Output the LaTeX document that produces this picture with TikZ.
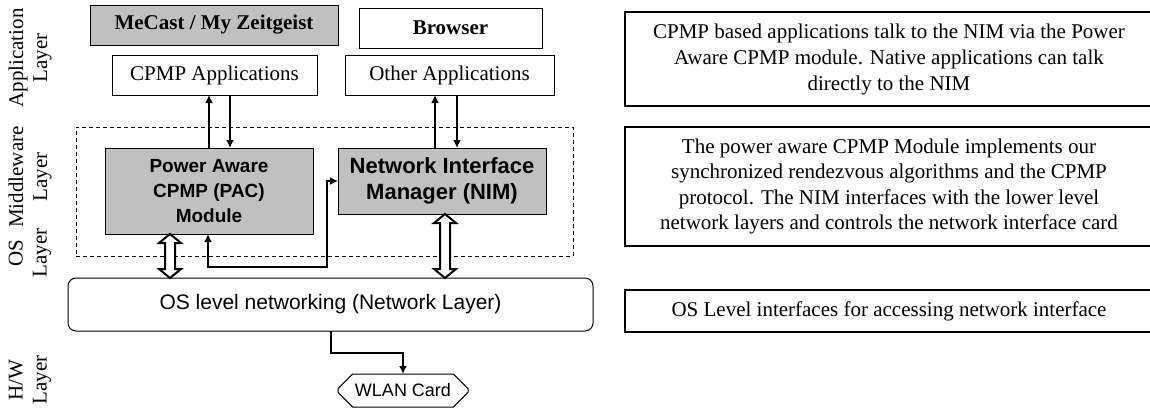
\documentclass[tikz,border=0pt]{standalone}
\usepackage{fontspec}
\setmainfont{Liberation Serif}
\setsansfont{Liberation Sans}
\usetikzlibrary{arrows.meta,shapes.misc,calc}
\definecolor{boxgray}{RGB}{192,192,192}

% hollow two-headed block arrow between two points on one vertical line
\newcommand\blockdblarrow[2]{%
  \path[blockarrow] let \p1=(#1), \p2=(#2) in
    (\x1,\y1) -- (\x1+5.5pt,\y1-4.5pt) -- (\x1+2.5pt,\y1-4.5pt)
    -- (\x1+2.5pt,\y2+4.5pt) -- (\x1+5.5pt,\y2+4.5pt) -- (\x1,\y2)
    -- (\x1-5.5pt,\y2+4.5pt) -- (\x1-2.5pt,\y2+4.5pt)
    -- (\x1-2.5pt,\y1-4.5pt) -- (\x1-5.5pt,\y1-4.5pt) -- cycle;}

\begin{document}
\begin{tikzpicture}[x=0.5pt,y=-0.5pt,
  every node/.style={inner sep=0pt,outer sep=0pt},
  appbox/.style={draw,line width=0.5pt,minimum height=20pt,
    font=\fontsize{10.5}{12}\selectfont},
  modbox/.style={draw,line width=0.5pt,fill=boxgray,align=center,
    font=\sffamily\bfseries},
  layer/.style={rotate=90,align=center,font=\fontsize{10.5}{12}\selectfont},
  note/.style={draw,line width=1.2pt,align=center,minimum width=264pt,
    font=\fontsize{10.5}{13}\selectfont},
  mwbox/.style={draw,line width=0.5pt,dash pattern=on 2pt off 1.5pt},
  arr/.style={line width=1pt,-{Latex[length=4pt,width=4pt]}},
  arrboth/.style={line width=1pt,
    {Latex[length=4pt,width=4pt]}-{Latex[length=4pt,width=4pt]}},
  blockarrow/.style={draw,fill=white,line width=1pt}]

\useasboundingbox (0,0) rectangle (1150,412);

% layer captions
\node[layer] (lapp) at (30,58) {Application\\Layer};
\node[layer] (lmid) at (30,177) {Middleware\\Layer};
\node[layer] (los)  at (30,253) {OS\\Layer};
\node[layer] (lhw)  at (30,380) {H/W\\Layer};

% application layer
\node[appbox,fill=boxgray,minimum width=124pt,font=\fontsize{10.5}{12}\selectfont\bfseries]
  (mecast) at (214,25) {MeCast / My Zeitgeist};
\node[appbox,minimum width=91.5pt,font=\fontsize{10.5}{12}\selectfont\bfseries]
  (browser) at (450.5,28) {Browser};
\node[appbox,minimum width=102.5pt] (cpmp) at (214.5,75) {CPMP Applications};
\node[appbox,minimum width=104.5pt] (other) at (449.5,75) {Other Applications};

% middleware layer
\node[mwbox,minimum width=248.5pt,minimum height=64.5pt] (mw) at (324.5,191.5) {};
\node[modbox,minimum width=104pt,minimum height=43pt,
  font=\sffamily\bfseries\fontsize{9.5}{12.3}\selectfont]
  (pac) at (209,191) {Power Aware\\CPMP (PAC)\\Module};
\node[modbox,minimum width=104pt,minimum height=33pt,
  font=\sffamily\bfseries\fontsize{11}{13.3}\selectfont]
  (nim) at (442,181) {Network Interface\\Manager (NIM)};

% OS and hardware layers
\node[draw,line width=0.5pt,rounded corners=4pt,minimum width=262.5pt,
  minimum height=26.5pt,font=\sffamily\fontsize{10.5}{12}\selectfont]
  (os) at (330.5,304.5) {OS level networking (Network Layer)};
\node[draw,line width=0.5pt,chamfered rectangle,chamfered rectangle xsep=3.5pt,
  chamfered rectangle ysep=4pt,minimum width=65pt,minimum height=16.5pt,
  font=\sffamily\fontsize{9}{11}\selectfont]
  (wlan) at (403,390.5) {WLAN Card};

% reference columns and rows for the connectors
\coordinate (xb) at (230,0);
\coordinate (xc) at (435,0);
\coordinate (xd) at (457,0);
\coordinate (xe) at (170,0);
\coordinate (xf) at (445,0);
\coordinate (xg) at (208,0);
\coordinate (xh) at (327,0);
\coordinate (yl) at (0,267);
\coordinate (yw) at (0,353);

% application <-> middleware
\draw[arr] (pac.north) -- (pac.north |- cpmp.south);
\draw[arr] (xb |- cpmp.south) -- (xb |- pac.north);
\draw[arr] (xc |- nim.north) -- (xc |- other.south);
\draw[arr] (xd |- other.south) -- (xd |- nim.north);

% PAC <-> NIM
\draw[arrboth] (xg |- pac.south) -- (xg |- yl) -| (xh |- nim.west) -- (nim.west);

% middleware <-> OS
\blockdblarrow{xe |- pac.south}{xe |- os.north}
\blockdblarrow{xf |- nim.south}{xf |- os.north}

% OS -> card
\draw[arr] (os.south) -- (os.south |- yw) -| (wlan.north);

% explanations
\node[note,minimum height=47pt] (n1) at (889,59)
  {CPMP based applications talk to the NIM via the Power\\
   Aware CPMP module. Native applications can talk\\
   directly to the NIM};
\node[note,minimum height=59.5pt,font=\fontsize{10.5}{12.8}\selectfont] (n2) at (889,186.5)
  {The power aware CPMP Module implements our\\
   synchronized rendezvous algorithms and the CPMP\\
   protocol. The NIM interfaces with the lower level\\
   network layers and controls the network interface card};
\node[note,minimum height=21pt] (n3) at (889,311)
  {OS Level interfaces for accessing network interface};
\end{tikzpicture}
\end{document}
